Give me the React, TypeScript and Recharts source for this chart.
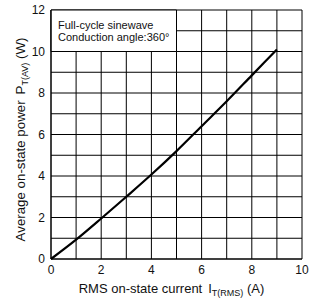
import React from 'react';
import {
  LineChart,
  Line,
  XAxis,
  YAxis,
  CartesianGrid,
  ReferenceArea,
} from 'recharts';

const currentA = [0, 1, 2, 3, 4, 5, 6, 7, 8, 9];
const powerW = [0, 0.93, 1.95, 3.0, 4.07, 5.2, 6.4, 7.6, 8.85, 10.1];
const xTicks = [0, 1, 2, 3, 4, 5, 6, 7, 8, 9, 10];
const yTicks = [0, 1, 2, 3, 4, 5, 6, 7, 8, 9, 10, 11, 12];
const noteLines = ['Full-cycle sinewave', 'Conduction angle:360°'];

const data = currentA.map((x, i) => ({ x, y: powerW[i] }));

const FONT = '"Liberation Sans", Arial, sans-serif';
const INK = '#111';

const evenOnly = (v: number) => (v % 2 === 0 ? String(v) : '');

// x axis title with the I_T(RMS) subscript
const XTitle = (props: any) => {
  const vb = props.viewBox || {};
  const cx = vb.x + vb.width / 2 - 5;
  return (
    <text x={cx} y={293} textAnchor="middle" fontFamily={FONT} fontSize={13} fill={INK}>
      RMS on-state current
      <tspan dx={6}>I</tspan>
      <tspan fontSize={9} dy={3}>T(RMS)</tspan>
      <tspan dy={-3}> (A)</tspan>
    </text>
  );
};

// y axis title with the P_T(AV) subscript
const YTitle = (props: any) => {
  const vb = props.viewBox || {};
  const cy = vb.y + vb.height / 2 + 5;
  return (
    <text
      x={24.5}
      y={cy}
      transform={`rotate(-90, 24.5, ${cy})`}
      textAnchor="middle"
      fontFamily={FONT}
      fontSize={13.3}
      fill={INK}
    >
      Average on-state power
      <tspan dx={6}>P</tspan>
      <tspan fontSize={9} dy={3}>T(AV)</tspan>
      <tspan dy={-3}> (W)</tspan>
    </text>
  );
};

const NoteBox = (props: any) => {
  const vb = props.viewBox || {};
  return (
    <text x={vb.x + 7} y={vb.y + 19} fontFamily={FONT} fontSize={11} fill={INK}>
      {noteLines.map((t, i) => (
        <tspan key={t} x={vb.x + 7} dy={i === 0 ? 0 : 12}>
          {t}
        </tspan>
      ))}
    </text>
  );
};

export default function App() {
  return (
    <div style={{ position: 'absolute', left: 0, top: 0, background: '#fff' }}>
      <LineChart
        width={312}
        height={299}
        data={data}
        margin={{ top: 10, right: 10, bottom: 10, left: 11 }}
      >
        <CartesianGrid stroke="#000" strokeWidth={1} />
        <XAxis
          dataKey="x"
          type="number"
          domain={[0, 10]}
          ticks={xTicks}
          interval={0}
          tickFormatter={evenOnly}
          tickLine={false}
          tickSize={0}
          tickMargin={6}
          axisLine={{ stroke: '#000' }}
          height={30}
          tick={{ fill: INK, fontSize: 12, fontFamily: FONT }}
          label={<XTitle />}
        />
        <YAxis
          type="number"
          domain={[0, 12]}
          ticks={yTicks}
          interval={0}
          tickFormatter={evenOnly}
          tickLine={false}
          tickSize={0}
          tickMargin={6}
          axisLine={{ stroke: '#000' }}
          width={40}
          tick={{ fill: INK, fontSize: 12, fontFamily: FONT }}
          label={<YTitle />}
        />
        <ReferenceArea
          x1={0}
          x2={5}
          y1={10}
          y2={12}
          fill="#fff"
          fillOpacity={1}
          stroke="#000"
          strokeWidth={1}
          ifOverflow="visible"
          label={<NoteBox />}
        />
        <Line
          type="monotone"
          dataKey="y"
          stroke="#000"
          strokeWidth={2.2}
          dot={false}
          isAnimationActive={false}
        />
      </LineChart>
    </div>
  );
}
